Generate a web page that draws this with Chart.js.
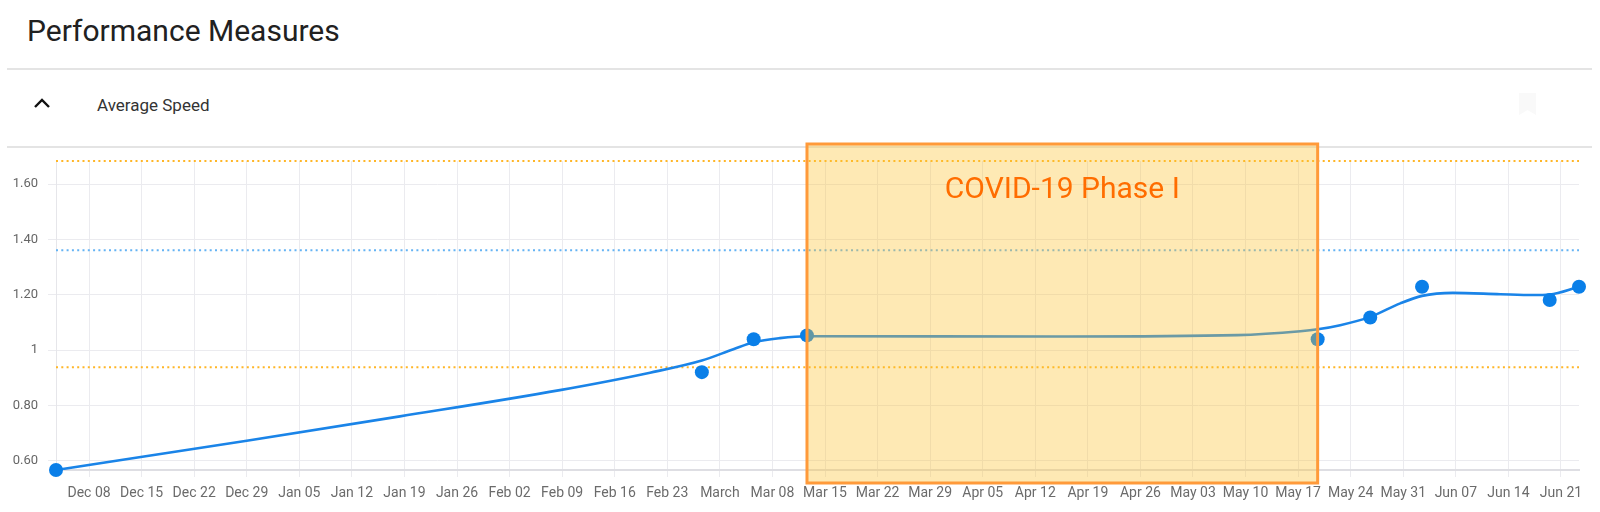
<!DOCTYPE html>
<html>
<head>
<meta charset="utf-8">
<script src="https://cdn.jsdelivr.net/npm/chart.js@4.4.1/dist/chart.umd.min.js"></script>
<style>
html,body{margin:0;padding:0;background:#fff;width:1600px;height:512px;overflow:hidden;font-family:Roboto,"Noto Sans",sans-serif;}
#title{position:absolute;left:27px;top:13px;font-size:30px;line-height:36px;color:#212121;white-space:nowrap;}
.sep{position:absolute;left:7px;width:1585px;height:2px;background:#e4e4e4;}
#sub{position:absolute;left:97px;top:95px;font-size:17px;line-height:21px;color:#333;white-space:nowrap;}
#chev{position:absolute;left:32px;top:95px;}
#bm{position:absolute;left:1519px;top:93px;}
#wrap{position:absolute;left:0;top:0;width:1600px;height:512px;}
</style>
</head>
<body>
<div id="title">Performance Measures</div>
<div class="sep" style="top:68px"></div>
<svg id="chev" width="20" height="16"><polyline points="3,12 10,5 17,12" fill="none" stroke="#111" stroke-width="2.4"/></svg>
<div id="sub">Average Speed</div>
<svg id="bm" width="18" height="23"><polygon points="0,0 17,0 17,22 8.5,17 0,22" fill="#f9f9f9"/></svg>
<div class="sep" style="top:146px"></div>
<div id="wrap"><canvas id="c" width="1600" height="512"></canvas></div>
<script>
// ---- data (x = days since Dec 08, 2019) ----
const tickLabels = ["Dec 08","Dec 15","Dec 22","Dec 29","Jan 05","Jan 12","Jan 19","Jan 26","Feb 02","Feb 09","Feb 16","Feb 23","March","Mar 08","Mar 15","Mar 22","Mar 29","Apr 05","Apr 12","Apr 19","Apr 26","May 03","May 10","May 17","May 24","May 31","Jun 07","Jun 14","Jun 21"];
const tickDays = [0,7,14,21,28,35,42,49,56,63,70,77,84,91,98,105,112,119,126,133,140,147,154,161,168,175,182,189,196];
const yTickValues = [0.6,0.8,1.0,1.2,1.4,1.6];

const pointDays   = [-4.4, 81.6, 88.5, 95.6, 163.6, 170.6, 177.5, 194.5, 198.4];
const pointValues = [0.566, 0.920, 1.039, 1.053, 1.039, 1.118, 1.229, 1.181, 1.229];

const trendDays   = [-4.4, 21.0, 41.4, 62.7, 74.7, 81.6, 85.8, 88.5, 92.0, 95.6, 130.0, 152.9, 161.3, 163.6, 166.6, 170.6, 174.6, 177.5, 181.6, 187.9, 192.3, 194.5, 198.4];
const trendValues = [0.566, 0.672, 0.760, 0.855, 0.918, 0.962, 1.003, 1.028, 1.043, 1.050, 1.049, 1.054, 1.068, 1.075, 1.090, 1.120, 1.169, 1.196, 1.207, 1.202, 1.199, 1.201, 1.229];

const upperLimit = 1.684;
const centerLine = 1.361;
const lowerLimit = 0.938;

const phaseStartDay = 95.6;
const phaseEndDay = 163.6;
const phaseLabel = "COVID-19 Phase I";

// ---- chart ----
const xMin = Math.min(...pointDays), xMax = Math.max(...pointDays);
const yMin = Math.min(...pointValues), yMax = upperLimit;
const toXY = (xs, ys) => xs.map((x, i) => ({x: x, y: ys[i]}));
const limitLine = (v, color) => ({
  data: [{x: xMin, y: v}, {x: xMax, y: v}],
  borderColor: color, borderWidth: 2, borderDash: [2, 3.3],
  pointRadius: 0, clip: false, order: 3, fill: false
});

const phasePlugin = {
  id: 'phase',
  afterDatasetsDraw(chart) {
    const {ctx, chartArea, scales: {x}} = chart;
    const l = x.getPixelForValue(phaseStartDay);
    const r = x.getPixelForValue(phaseEndDay);
    const t = chartArea.top - 17;
    const b = chartArea.bottom + 13;
    ctx.save();
    ctx.fillStyle = 'rgba(252,193,48,0.36)';
    ctx.fillRect(l, t, r - l, b - t);
    ctx.strokeStyle = '#ff9a3a';
    ctx.lineWidth = 3;
    ctx.strokeRect(l, t, r - l, b - t);
    ctx.fillStyle = '#ff6d00';
    ctx.font = '30px Roboto';
    ctx.textAlign = 'center';
    ctx.textBaseline = 'alphabetic';
    ctx.fillText(phaseLabel, (l + r) / 2, chartArea.top + 37);
    ctx.restore();
  }
};

new Chart(document.getElementById('c'), {
  type: 'line',
  data: {
    datasets: [
      {data: toXY(pointDays, pointValues), showLine: false, pointRadius: 7, pointHoverRadius: 7,
       backgroundColor: '#0a7fe8', pointBorderWidth: 0, borderColor: '#0a7fe8', order: 0, clip: false},
      {data: toXY(trendDays, trendValues), borderColor: '#1a84e8', borderWidth: 2.6, pointRadius: 0,
       cubicInterpolationMode: 'monotone', order: 1, fill: false},
      limitLine(upperLimit, '#ffb627'),
      limitLine(centerLine, '#64b3f4'),
      limitLine(lowerLimit, '#ffb627')
    ]
  },
  options: {
    responsive: false,
    animation: false,
    events: [],
    layout: {padding: {top: 161, right: 21, left: 0, bottom: 0}},
    plugins: {legend: {display: false}, tooltip: {enabled: false}},
    scales: {
      x: {
        type: 'linear', min: xMin, max: xMax,
        afterFit: s => { s.height = 42; },
        afterBuildTicks: s => { s.ticks = tickDays.map(v => ({value: v})); },
        ticks: {autoSkip: false, maxRotation: 0, padding: 8, color: '#6b6b6b',
                font: {family: 'Roboto', size: 14},
                callback: (v, i) => tickLabels[i]},
        grid: {color: '#ebebef', lineWidth: 1, tickLength: 7, drawTicks: true},
        border: {display: true, color: '#dedee3', width: 2}
      },
      y: {
        min: yMin, max: yMax,
        afterFit: s => { s.width = 56; },
        afterBuildTicks: s => { s.ticks = yTickValues.map(v => ({value: v})); },
        ticks: {padding: 10, color: '#666', font: {family: 'Roboto', size: 13},
                callback: v => (v === 1 ? '1' : v.toFixed(2))},
        grid: {color: '#ebebef', lineWidth: 1, tickLength: 8, drawTicks: true},
        border: {display: true, color: '#e6e6ea', width: 1}
      }
    }
  },
  plugins: [phasePlugin]
});
</script>
</body>
</html>
